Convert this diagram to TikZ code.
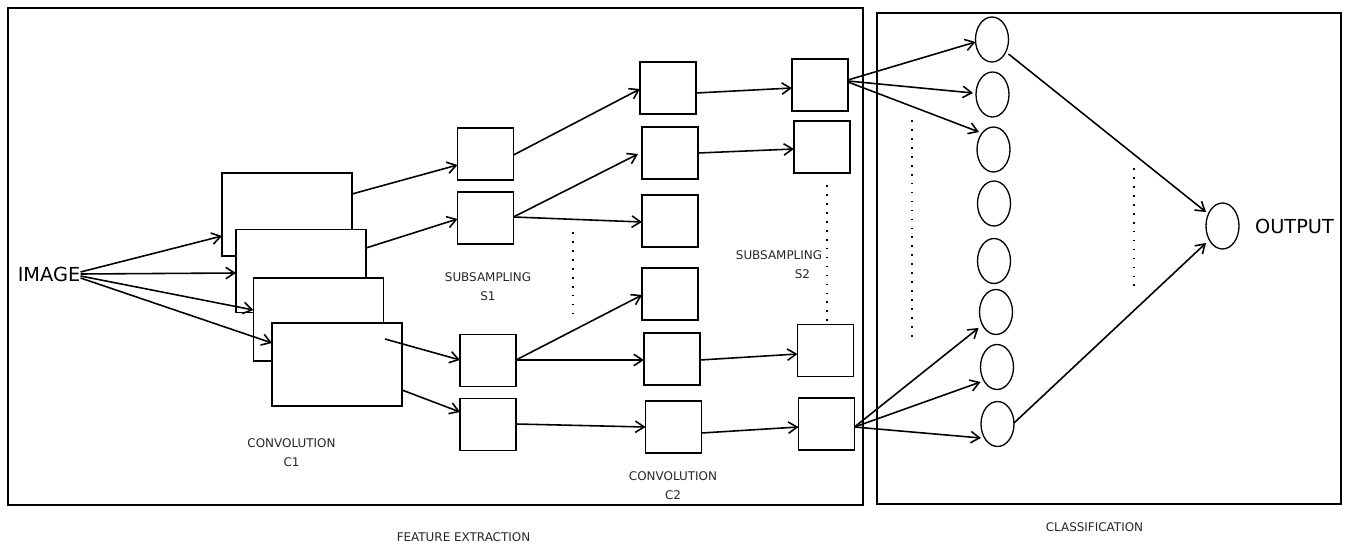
\documentclass[tikz,border=0pt]{standalone}
\usepackage{fontspec}
\setmainfont{DejaVu Sans}
\usetikzlibrary{arrows.meta,shapes.geometric}

\begin{document}
\begin{tikzpicture}[x=0.02cm,y=-0.02cm,
  frame/.style={draw,line width=1.2pt,inner sep=0pt,outer sep=0pt},
  fmap/.style={draw,line width=1.1pt,fill=white,inner sep=0pt,outer sep=0pt,
    minimum width=2.6cm,minimum height=1.66cm},
  cell/.style={draw,line width=1.1pt,inner sep=0pt,outer sep=0pt,
    minimum width=1.12cm,minimum height=1.04cm},
  unit/.style={draw,ellipse,line width=0.75pt,inner sep=0pt,outer sep=0pt,
    minimum width=0.66cm,minimum height=0.9cm},
  link/.style={line width=0.9pt,-{Straight Barb[length=5pt,width=6.5pt]}},
  dots/.style={line width=1pt,dash pattern=on 1pt off 4.1pt},
  tag/.style={font=\fontsize{6.8}{10.8}\selectfont,text=black!85,inner sep=0pt,align=center},
  big/.style={font=\fontsize{11}{13}\selectfont,inner sep=0pt}
]
\useasboundingbox (0,0) rectangle (1346,544);

% outer panels
\node[frame,minimum width=17.1cm,minimum height=9.94cm] (feat) at (435.5,256.5) {};
\node[frame,minimum width=9.28cm,minimum height=9.82cm] (clas) at (1109,258.5) {};

% convolution C1 feature maps (stacked)
\node[fmap] (r1) at (287,214.5) {};
\node[fmap] (r2) at (301,271) {};
\node[fmap] (r3) at (318.5,319.5) {};
\node[fmap] (r4) at (337,364.5) {};

% subsampling S1
\node[cell] (s1a) at (485.5,154) {};
\node[cell] (s1b) at (485.5,218) {};
\node[cell] (s1c) at (488,360.5) {};
\node[cell] (s1d) at (488,424.5) {};

% convolution C2
\node[cell] (c2a) at (668,88) {};
\node[cell] (c2b) at (670,153) {};
\node[cell] (c2c) at (670,221) {};
\node[cell] (c2d) at (670,294) {};
\node[cell] (c2e) at (672,359) {};
\node[cell] (c2f) at (673.5,427) {};

% subsampling S2
\node[cell] (s2a) at (820,85) {};
\node[cell] (s2b) at (822,147) {};
\node[cell] (s2c) at (825.5,350.5) {};
\node[cell] (s2d) at (826.5,424) {};

% fully connected units
\node[unit] (e1) at (992,39.5) {};
\node[unit] (e2) at (992.5,94.5) {};
\node[unit] (e3) at (993.5,149.5) {};
\node[unit] (e4) at (994,203.5) {};
\node[unit] (e5) at (994,261) {};
\node[unit] (e6) at (996,312) {};
\node[unit] (e7) at (997,367) {};
\node[unit] (e8) at (997.5,424) {};
\node[unit,minimum height=0.92cm] (out) at (1222.5,226) {};

% text
\node[big] (img) at (49,274) {IMAGE};
\node[big] (outlbl) at (1294.5,226) {OUTPUT};
\node[tag] (s1lbl) at (488,286.5) {SUBSAMPLING\\S1};
\node[tag,align=left] (s2lbl) at (779,264.5) {SUBSAMPLING\\\hspace*{1.18cm}S2};
\node[tag] (c1lbl) at (291.5,452.5) {CONVOLUTION\\C1};
\node[tag] (c2lbl) at (673,486) {CONVOLUTION\\C2};
\node[tag] (featlbl) at (463.5,537) {FEATURE EXTRACTION};
\node[tag] (claslbl) at (1094.5,527) {CLASSIFICATION};

% image -> C1
\draw[link] (img.east |- 0,272) -- (r1.west |- 0,236);
\draw[link] (img.east |- 0,274) -- (r2.west |- 0,273);
\draw[link] (img.east |- 0,276) -- (r3.west |- 0,310);
\draw[link] (img.east |- 0,278) -- (r4.west |- 0,343);

% C1 -> S1
\draw[link] (r1.east |- 0,194) -- (s1a.west |- 0,165);
\draw[link] (r2.east |- 0,248) -- (s1b.west |- 0,219);
\draw[link] ([xshift=-0.34cm]r4.east |- 0,339) -- (s1c.west |- 0,360);
\draw[link] (r4.east |- 0,390) -- (s1d.west |- 0,412);

% S1 -> C2
\draw[link] (s1a.east |- 0,155) -- (c2a.west |- 0,89);
\draw[link] (s1b.east |- 0,217) -- ([xshift=-0.08cm]c2b.west |- 0,154);
\draw[link] (s1b.east |- 0,217) -- (c2c.west |- 0,222);
\draw[link] (s1c.east |- 0,360) -- (c2d.west |- 0,295);
\draw[link] (s1c.east |- 0,360) -- (c2e.west |- 0,360);
\draw[link] (s1d.east |- 0,424) -- (c2f.west |- 0,427);

% C2 -> S2
\draw[link] (c2a.east |- 0,93) -- (s2a.west |- 0,88);
\draw[link] (c2b.east |- 0,153) -- (s2b.west |- 0,149);
\draw[link] (c2e.east |- 0,360) -- (s2c.west |- 0,354);
\draw[link] (c2f.east |- 0,433) -- (s2d.west |- 0,427);

% S2 -> units
\draw[link] (s2a.east |- 0,80) -- (e1.west |- 0,42);
\draw[link] (s2a.east |- 0,81) -- ([xshift=-0.06cm]e2.west |- 0,93);
\draw[link] (s2a.east |- 0,82) -- ([xshift=0.04cm]e3.west |- 0,132);
\draw[link] (s2d.east |- 0,427) -- ([xshift=-0.02cm]e6.west |- 0,328);
\draw[link] (s2d.east |- 0,427) -- (e7.west |- 0,382);
\draw[link] (s2d.east |- 0,427) -- (e8.west |- 0,438);

% units -> output
\draw[link] (e1.east |- 0,54) -- (out.west |- 0,212);
\draw[link] (e8.east |- 0,423) -- (out.west |- 0,243);

% ellipsis dots
\coordinate (d1t) at (573,232);  \coordinate (d1b) at (573,313);
\coordinate (d2t) at (827,185);  \coordinate (d2b) at (827,322);
\coordinate (d3t) at (912,120);  \coordinate (d3b) at (912,344);
\coordinate (d4t) at (1134,168); \coordinate (d4b) at (1134,288);
\draw[dots] (d1t) -- (d1b);
\draw[dots] (d2t) -- (d2b);
\draw[dots] (d3t) -- (d3b);
\draw[dots] (d4t) -- (d4b);
\end{tikzpicture}
\end{document}
